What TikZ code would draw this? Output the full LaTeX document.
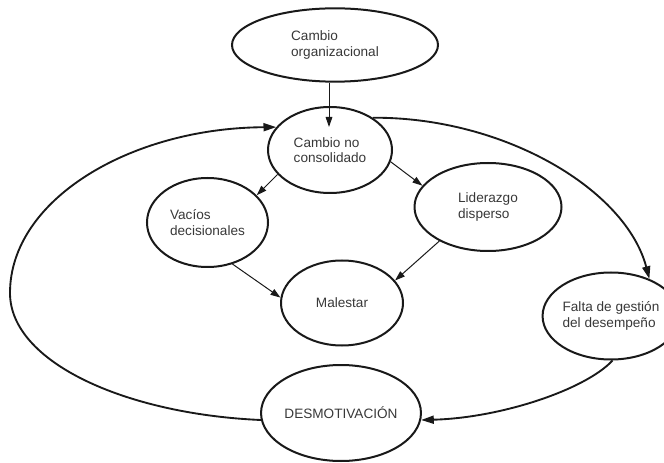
\documentclass[tikz,border=0pt]{standalone}
\usepackage{fontspec}
\setmainfont{Liberation Sans}
\usetikzlibrary{shapes.geometric,arrows.meta}
\begin{document}
\begin{tikzpicture}[x=0.75pt,y=-0.75pt,
  bubble/.style={ellipse,draw=black!90,line width=1.5pt,inner sep=0pt,
    align=left,text=black!78,font=\fontsize{10.2pt}{11.5pt}\selectfont},
  thin arrow/.style={draw=black!90,line width=0.75pt,
    -{Triangle[length=7.5pt,width=5pt]}},
  thick arrow/.style={draw=black!90,line width=1.4pt,
    -{Triangle[length=9.5pt,width=6pt]}}]
\useasboundingbox (0,0) rectangle (664,463);

% nodes of the loop
\node[bubble,minimum width=154.5pt,minimum height=55pt] (org) at (335,45)
  {Cambio\\organizacional};
\node[bubble,minimum width=93pt,minimum height=64.5pt] (cnc) at (330,150)
  {Cambio no\\consolidado};
\node[bubble,minimum width=90.75pt,minimum height=66.75pt] (vac) at (207.5,222.5)
  {Vacíos\\decisionales};
\node[bubble,minimum width=110.25pt,minimum height=66pt] (lid) at (488,207)
  {Liderazgo\\disperso};
\node[bubble,minimum width=91.5pt,minimum height=63.75pt] (mal) at (342,303)
  {Malestar};
\node[bubble,minimum width=94.5pt,minimum height=65.25pt] (fal) at (611,316)
  {Falta de gestión\\del desempeño};
\node[bubble,minimum width=109.5pt,minimum height=72pt] (des) at (341,413)
  {DESMOTIVACIÓN};

% auxiliary points
\coordinate (cncIn) at (329,127);
\coordinate (loopL) at (10,293);

% thin arrows
\draw[thin arrow] (org.south -| cncIn) -- (cncIn);
\draw[thin arrow] (cnc.205) -- (vac.29);
\draw[thin arrow] (cnc.-11) -- (lid.162);
\draw[thin arrow] (vac.-59) -- (mal.175);
\draw[thin arrow] (lid.215) -- (mal.23);

% thick feedback arrows
\draw[thick arrow] (des.185) .. controls (125,414) and (10,362) .. (loopL)
  .. controls (10,200) and (130,128) .. (cnc.157);
\draw[thick arrow] (cnc.37) .. controls (505,117) and (626,190) .. (fal.44);
\draw[thick arrow] (fal.-88) .. controls (585,390) and (500,418) .. (des.-5);
\end{tikzpicture}
\end{document}
